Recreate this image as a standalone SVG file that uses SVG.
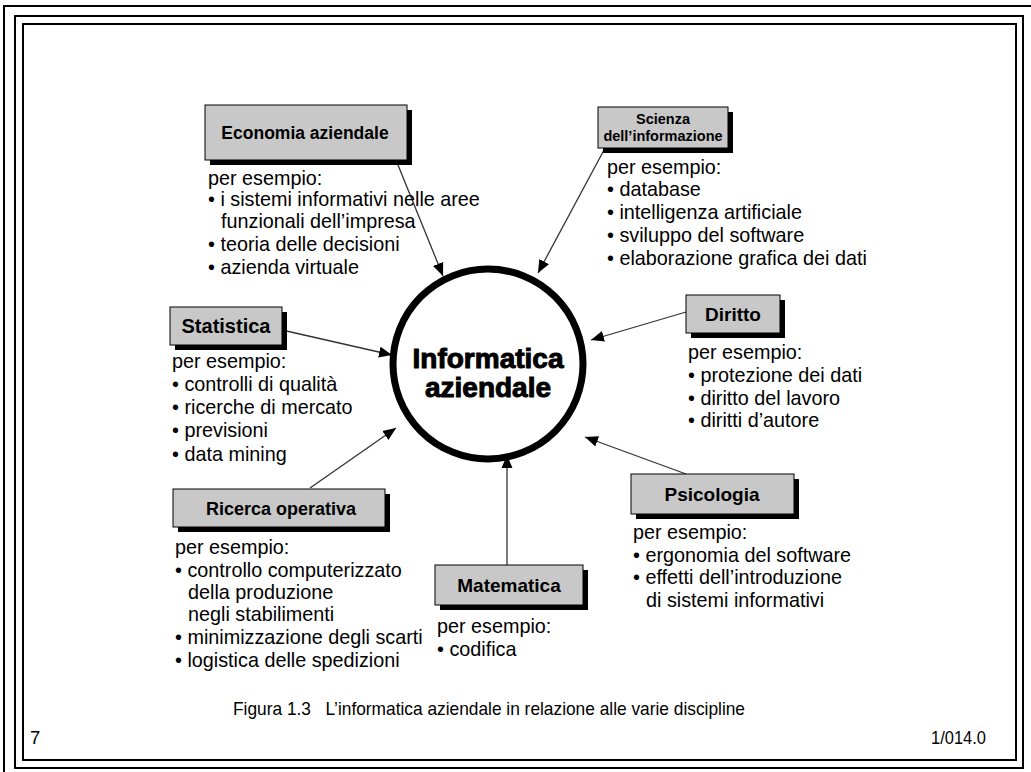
<svg xmlns="http://www.w3.org/2000/svg" width="1031" height="772" viewBox="0 0 1031 772">
<style>
.frame{fill:none;stroke:#000;stroke-width:2}
.box{fill:#c8c8c8;stroke:#000;stroke-width:1}
.sh{fill:#000}
.lbl{font-family:"Liberation Sans",Arial,sans-serif;font-weight:bold;font-size:19px;fill:#000;text-anchor:middle}
.lbls{font-family:"Liberation Sans",Arial,sans-serif;font-weight:bold;font-size:14.5px;fill:#000;text-anchor:middle}
.t{font-family:"Liberation Sans",Arial,sans-serif;font-size:19.8px;fill:#000}
.cap{font-family:"Liberation Sans",Arial,sans-serif;font-size:18.5px;fill:#000}
.ctr{font-family:"Liberation Sans",Arial,sans-serif;font-weight:bold;font-size:28px;fill:#000;stroke:#000;stroke-width:1;text-anchor:middle}
.con{stroke:#333;stroke-width:1.3;fill:none;marker-end:url(#ah)}
</style>
<defs>
<marker id="ah" viewBox="0 0 10 10" refX="10" refY="5" markerWidth="13" markerHeight="13" markerUnits="userSpaceOnUse" orient="auto">
<path d="M0,0.8 L10,5 L0,9.2 z" fill="#000"/>
</marker>
</defs>
<rect width="1031" height="772" fill="#fff"/>
<rect class="frame" x="4" y="6" width="1040" height="780"/>
<rect class="frame" x="15" y="16" width="1008" height="752"/>
<rect class="frame" x="23" y="24" width="993" height="736"/>

<g id="connectors">
<line class="con" x1="398" y1="165" x2="443" y2="276"/>
<line class="con" x1="604" y1="150" x2="538" y2="273"/>
<line class="con" x1="282" y1="330" x2="392" y2="355"/>
<line class="con" x1="686" y1="312" x2="591" y2="340"/>
<line class="con" x1="310" y1="488" x2="396" y2="428"/>
<line class="con" x1="507" y1="565" x2="507" y2="455"/>
<line class="con" x1="686" y1="474" x2="585" y2="437"/>
</g>

<g id="center">
<circle cx="488" cy="364" r="95" fill="#fff" stroke="#000" stroke-width="7"/>
<text class="ctr" x="488" y="368">Informatica</text>
<text class="ctr" x="488" y="397">aziendale</text>
</g>

<g id="economia">
<rect class="sh" x="210" y="110" width="202" height="55"/>
<rect class="box" x="205" y="105" width="202" height="55"/>
<text class="lbl" x="305" y="139" style="font-size:17.5px">Economia aziendale</text>
<text class="t" x="208" y="185">per esempio:</text>
<text class="t" x="208" y="206">• i sistemi informativi nelle aree</text>
<text class="t" x="221" y="228">funzionali dell’impresa</text>
<text class="t" x="208" y="251">• teoria delle decisioni</text>
<text class="t" x="208" y="274">• azienda virtuale</text>
</g>

<g id="scienza">
<rect class="sh" x="603" y="112" width="130" height="41"/>
<rect class="box" x="598" y="107" width="130" height="41"/>
<text class="lbls" x="663" y="124">Scienza</text>
<text class="lbls" x="663" y="141">dell’informazione</text>
<text class="t" x="607" y="174">per esempio:</text>
<text class="t" x="607" y="196">• database</text>
<text class="t" x="607" y="219">• intelligenza artificiale</text>
<text class="t" x="607" y="242">• sviluppo del software</text>
<text class="t" x="607" y="265">• elaborazione grafica dei dati</text>
</g>

<g id="statistica">
<rect class="sh" x="175" y="312" width="112" height="38"/>
<rect class="box" x="170" y="307" width="112" height="38"/>
<text class="lbl" x="226" y="333" style="font-size:20px">Statistica</text>
<text class="t" x="172" y="368">per esempio:</text>
<text class="t" x="172" y="391">• controlli di qualità</text>
<text class="t" x="172" y="414">• ricerche di mercato</text>
<text class="t" x="172" y="437">• previsioni</text>
<text class="t" x="172" y="461">• data mining</text>
</g>

<g id="diritto">
<rect class="sh" x="691" y="300" width="94" height="38"/>
<rect class="box" x="686" y="295" width="94" height="38"/>
<text class="lbl" x="733" y="321">Diritto</text>
<text class="t" x="688" y="359">per esempio:</text>
<text class="t" x="688" y="382">• protezione dei dati</text>
<text class="t" x="688" y="405">• diritto del lavoro</text>
<text class="t" x="688" y="427">• diritti d’autore</text>
</g>

<g id="ricerca">
<rect class="sh" x="178" y="494" width="212" height="38"/>
<rect class="box" x="173" y="489" width="212" height="38"/>
<text class="lbl" x="281" y="515" style="font-size:18px">Ricerca operativa</text>
<text class="t" x="175" y="554">per esempio:</text>
<text class="t" x="175" y="577">• controllo computerizzato</text>
<text class="t" x="188" y="599">della produzione</text>
<text class="t" x="188" y="621">negli stabilimenti</text>
<text class="t" x="175" y="644">• minimizzazione degli scarti</text>
<text class="t" x="175" y="667">• logistica delle spedizioni</text>
</g>

<g id="matematica">
<rect class="sh" x="440" y="570" width="148" height="40"/>
<rect class="box" x="435" y="565" width="148" height="40"/>
<text class="lbl" x="509" y="592">Matematica</text>
<text class="t" x="437" y="633">per esempio:</text>
<text class="t" x="437" y="656">• codifica</text>
</g>

<g id="psicologia">
<rect class="sh" x="636" y="479" width="163" height="40"/>
<rect class="box" x="631" y="474" width="163" height="40"/>
<text class="lbl" x="712" y="501">Psicologia</text>
<text class="t" x="633" y="539">per esempio:</text>
<text class="t" x="633" y="562">• ergonomia del software</text>
<text class="t" x="633" y="584">• effetti dell’introduzione</text>
<text class="t" x="646" y="607">di sistemi informativi</text>
</g>

<text class="cap" x="233" y="715" textLength="512" lengthAdjust="spacingAndGlyphs" xml:space="preserve">Figura 1.3   L’informatica aziendale in relazione alle varie discipline</text>
<text class="cap" x="30" y="744">7</text>
<text class="cap" x="986" y="744" text-anchor="end" textLength="55" lengthAdjust="spacingAndGlyphs">1/014.0</text>
</svg>
